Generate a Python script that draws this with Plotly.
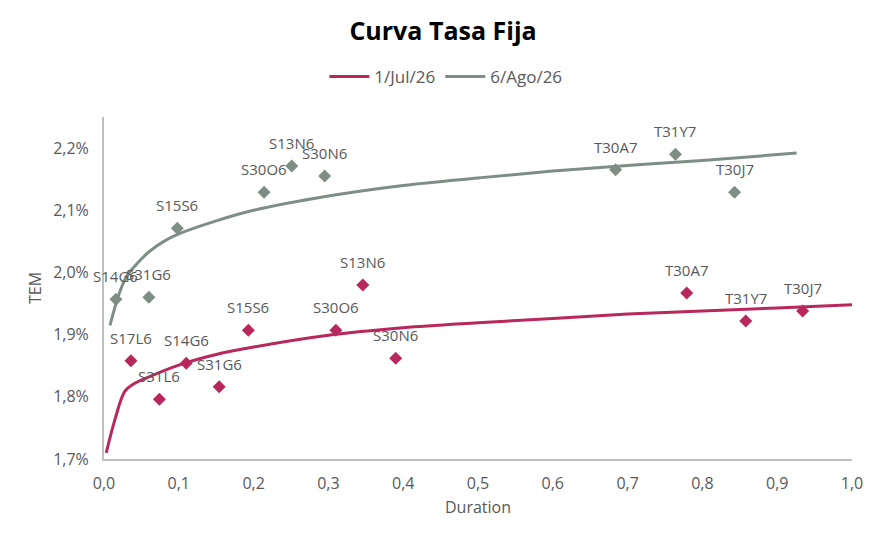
import plotly.graph_objects as go

# Data (TEM in %)
labels_jul = ['S17L6', 'S31L6', 'S14G6', 'S31G6', 'S15S6', 'S30O6', 'S13N6', 'S30N6', 'T30A7', 'T31Y7', 'T30J7']
dur_jul = [0.036, 0.074, 0.110, 0.154, 0.193, 0.310, 0.346, 0.390, 0.779, 0.858, 0.934]
tem_jul = [1.858, 1.796, 1.854, 1.816, 1.907, 1.907, 1.980, 1.862, 1.967, 1.922, 1.938]

labels_ago = ['S14G6', 'S31G6', 'S15S6', 'S30O6', 'S13N6', 'S30N6', 'T30A7', 'T31Y7', 'T30J7']
dur_ago = [0.016, 0.060, 0.098, 0.214, 0.251, 0.295, 0.684, 0.764, 0.843]
tem_ago = [1.957, 1.960, 2.071, 2.129, 2.171, 2.155, 2.165, 2.190, 2.129]

# curvas de tendencia
curve_x_jul = [0.003, 0.015, 0.028, 0.040, 0.060, 0.100, 0.150, 0.200, 0.300, 0.400, 0.500, 0.600, 0.700, 0.800, 0.900, 1.000]
curve_y_jul = [1.710, 1.765, 1.809, 1.821, 1.832, 1.851, 1.868, 1.880, 1.899, 1.911, 1.919, 1.926, 1.933, 1.938, 1.943, 1.948]
curve_x_ago = [0.008, 0.020, 0.030, 0.041, 0.060, 0.080, 0.100, 0.150, 0.200, 0.300, 0.400, 0.500, 0.600, 0.700, 0.800, 0.926]
curve_y_ago = [1.915, 1.965, 1.993, 2.010, 2.033, 2.050, 2.062, 2.083, 2.100, 2.123, 2.140, 2.152, 2.163, 2.172, 2.180, 2.192]

y_ticks = [1.7, 1.8, 1.9, 2.0, 2.1, 2.2]
y_ticktext = ['1,7%', '1,8%', '1,9%', '2,0%', '2,1%', '2,2%']

red = '#B8285C'
gray = '#7F8E85'
txt = '#595959'
font = 'Open Sans'

fig = go.Figure()

fig.add_trace(go.Scatter(x=curve_x_jul, y=curve_y_jul, mode='lines', name='1/Jul/26',
                         line=dict(color=red, width=3, shape='spline')))
fig.add_trace(go.Scatter(x=curve_x_ago, y=curve_y_ago, mode='lines', name='6/Ago/26',
                         line=dict(color=gray, width=3, shape='spline')))
fig.add_trace(go.Scatter(x=dur_jul, y=tem_jul, mode='markers', showlegend=False,
                         marker=dict(symbol='diamond', size=10, color=red)))
fig.add_trace(go.Scatter(x=dur_ago, y=tem_ago, mode='markers', showlegend=False,
                         marker=dict(symbol='diamond', size=10, color=gray)))

# etiquetas
for lab, x, y in list(zip(labels_jul, dur_jul, tem_jul)) + list(zip(labels_ago, dur_ago, tem_ago)):
    fig.add_annotation(x=x, y=y, text=lab, showarrow=False, yshift=23,
                       font=dict(family=font, size=15, color=txt))

fig.update_layout(
    width=886, height=543,
    paper_bgcolor='white', plot_bgcolor='white',
    separators=',.',
    margin=dict(l=96, r=42, t=109, b=92),
    title=dict(text='<b>Curva Tasa Fija</b>', x=0.491, xanchor='center', y=0.958, yanchor='middle',
               font=dict(family=font, size=25, color='black')),
    legend=dict(orientation='h', x=0.457, xanchor='center', y=1.117, yanchor='middle',
                font=dict(family=font, size=17, color=txt), itemwidth=40),
    font=dict(family=font, color=txt),
)
fig.update_xaxes(range=[0, 1.0], dtick=0.1, tickformat='.1f', showgrid=False, zeroline=False,
                 showline=True, linecolor='#BFBFBF', linewidth=2, ticks='', ticklabelstandoff=9,
                 tickfont=dict(family=font, size=16, color=txt),
                 title=dict(text='Duration', font=dict(family=font, size=16, color=txt), standoff=9))
fig.update_yaxes(range=[1.7, 2.25], tickvals=y_ticks, ticktext=y_ticktext,
                 showgrid=False, zeroline=False, showline=True, linecolor='#BFBFBF', linewidth=2, ticks='',
                 ticklabelstandoff=10,
                 tickfont=dict(family=font, size=16, color=txt),
                 title=dict(text='TEM', font=dict(family=font, size=16, color=txt), standoff=8))

fig.write_html("out.html")
